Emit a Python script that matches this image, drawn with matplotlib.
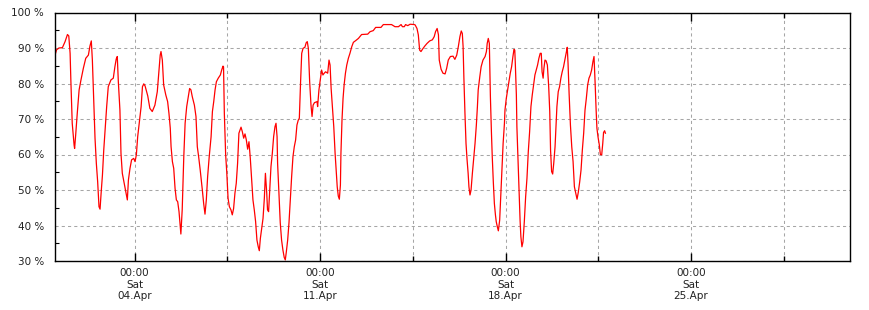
"""
CPU/memory style usage chart (percent over April), redrawn from a monitoring
screenshot. Values are read off the picture by hand.
"""

from datetime import datetime, timedelta

import matplotlib
matplotlib.use("Agg")
import matplotlib.pyplot as plt
import matplotlib.dates as mdates
from matplotlib.ticker import FixedLocator, FuncFormatter, MultipleLocator

# ─── DATA ───────────────────────────────────────────────────────────────────
START = datetime(2020, 4, 1)
END = datetime(2020, 5, 1)

# days since START
days = [
    0.00, 0.06, 0.15, 0.28, 0.38, 0.47, 0.52, 0.57, 0.60, 0.65, 0.72, 0.74,
    0.78, 0.84, 0.91, 0.98, 1.07, 1.16, 1.26, 1.32, 1.37, 1.41, 1.46, 1.51,
    1.56, 1.61, 1.66, 1.70, 1.74, 1.79, 1.84, 1.89, 1.95, 2.01, 2.11, 2.20,
    2.26, 2.31, 2.35, 2.39, 2.45, 2.49, 2.54, 2.60, 2.67, 2.73, 2.77, 2.83,
    2.89, 2.97, 3.02, 3.07, 3.12, 3.18, 3.25, 3.30, 3.35,
    3.40, 3.50, 3.58, 3.67, 3.77, 3.86, 3.92, 3.97, 4.00, 4.05, 4.10, 4.18,
    4.25, 4.30, 4.35, 4.38, 4.43, 4.48, 4.53, 4.58, 4.63, 4.68, 4.72, 4.75,
    4.80, 4.86, 4.91, 4.97, 5.03, 5.08, 5.13, 5.18, 5.26, 5.32, 5.37, 5.42,
    5.48, 5.56, 5.61, 5.66, 5.71, 5.76, 5.82, 5.89, 5.94, 5.99, 6.04, 6.09,
    6.16, 6.24, 6.29, 6.34, 6.36, 6.39, 6.44, 6.48, 6.53, 6.58, 6.64, 6.69,
    6.74, 6.79,
    6.84, 6.89, 6.94, 7.02, 7.07, 7.12, 7.17, 7.22, 7.27, 7.32, 7.37, 7.42,
    7.47, 7.52, 7.57, 7.62, 7.67, 7.71, 7.75, 7.80, 7.85, 7.90, 7.94, 7.99,
    8.02, 8.06, 8.10, 8.15, 8.20, 8.25, 8.30, 8.34, 8.38, 8.40, 8.45, 8.50,
    8.55, 8.60, 8.65, 8.69, 8.73, 8.78, 8.83, 8.88, 8.93, 8.98, 9.03, 9.08,
    9.13, 9.18, 9.22, 9.27, 9.31, 9.36, 9.43, 9.48, 9.52, 9.56, 9.61, 9.66,
    9.70, 9.74, 9.79, 9.89, 9.91, 9.96, 10.01, 10.06, 10.11, 10.16, 10.21,
    10.29, 10.34, 10.38, 10.42, 10.47, 10.52, 10.57, 10.62, 10.65, 10.69,
    10.73, 10.77, 10.79, 10.83, 10.87, 10.91, 10.96, 11.01, 11.07, 11.13,
    11.20, 11.26, 11.35, 11.45, 11.57, 11.80, 11.89, 12.01, 12.10, 12.30,
    12.39, 12.70, 12.83, 12.96, 13.06, 13.11, 13.18, 13.23, 13.31, 13.40,
    13.56,
    13.59, 13.66, 13.71, 13.76, 13.81, 13.89, 13.96, 14.04, 14.14, 14.24,
    14.31, 14.36, 14.42, 14.47, 14.50, 14.57, 14.64, 14.72, 14.78, 14.84,
    14.92, 15.02, 15.09, 15.16, 15.22, 15.28, 15.33, 15.37, 15.40, 15.43,
    15.47, 15.51, 15.55, 15.59, 15.62, 15.66, 15.70, 15.75, 15.80, 15.85,
    15.90, 15.94, 15.97, 16.03, 16.08, 16.15, 16.23, 16.28, 16.31, 16.35,
    16.39, 16.43, 16.47, 16.50, 16.54, 16.58, 16.62, 16.65, 16.69, 16.73,
    16.78, 16.82, 16.87, 16.91, 16.96,
    16.98, 17.03, 17.08, 17.13, 17.18, 17.23, 17.28, 17.32, 17.35, 17.37,
    17.41, 17.43, 17.47, 17.51, 17.55, 17.58, 17.62, 17.66, 17.71, 17.76,
    17.81, 17.86, 17.91, 17.96, 18.01, 18.06, 18.11, 18.16, 18.21, 18.26,
    18.31, 18.35, 18.38, 18.42, 18.45, 18.49, 18.53, 18.58, 18.63, 18.67,
    18.70, 18.74, 18.78, 18.82, 18.87, 18.91, 18.94, 18.99, 19.04, 19.09,
    19.14, 19.19, 19.24, 19.30, 19.33, 19.36, 19.40, 19.45, 19.50, 19.55,
    19.60, 19.65, 19.70, 19.75, 19.80, 19.85, 19.90, 19.95, 20.00, 20.05,
    20.10, 20.15, 20.20, 20.25, 20.30, 20.34, 20.38, 20.42, 20.45, 20.49,
    20.54, 20.58, 20.63, 20.67, 20.70, 20.74, 20.77,
]

usage_pct = [
    88.0, 89.5, 90.0, 90.1, 91.8, 93.8, 93.4, 88.5, 80.5, 68.8, 62.7, 61.7,
    65.5, 71.6, 78.2, 81.0, 84.3, 87.1, 88.0, 90.6, 92.0, 86.6, 75.8, 64.6,
    57.5, 52.3, 45.3, 44.6, 49.1, 54.2, 61.3, 66.9, 73.5, 79.1, 81.0, 81.5,
    84.7, 86.9, 87.6, 80.5, 72.5, 60.3, 54.7, 52.3, 49.5, 47.2, 52.8, 56.1,
    58.5, 58.9, 58.0, 59.9, 65.0, 68.8, 73.5, 79.1, 79.9,
    79.3, 76.5, 73.0, 72.1, 73.9, 77.7, 83.3, 88.0, 89.0, 86.6, 79.6, 76.8,
    74.9, 71.6, 67.4, 62.2, 58.0, 56.1, 50.5, 47.2, 46.7, 43.9, 40.1, 37.6,
    44.4, 59.4, 68.8, 73.5, 76.3, 78.6, 78.2, 76.3, 73.9, 70.7, 62.2, 59.4,
    55.6, 50.0, 46.2, 43.2, 47.2, 53.8, 59.4, 65.0, 72.1, 74.9, 78.2, 80.5,
    81.5, 82.4, 83.8, 84.9, 84.7, 71.6, 59.9, 55.2, 47.7, 45.3, 44.4, 43.0,
    44.8, 49.1,
    51.9, 57.5, 66.0, 67.7, 66.4, 64.6, 65.8, 64.1, 61.5, 63.6, 58.9, 52.8,
    47.2, 44.4, 41.1, 35.9, 34.0, 32.9, 36.4, 39.2, 42.0, 47.7, 54.7, 49.1,
    44.4, 43.9, 49.5, 56.6, 60.3, 65.0, 67.8, 68.8, 65.0, 57.5, 49.1, 40.8,
    35.9, 33.1, 31.0, 30.3, 32.6, 35.9, 40.8, 47.2, 53.8, 59.4, 62.2, 64.1,
    68.3, 69.7, 70.2, 81.0, 88.5, 89.9, 90.2, 91.5, 91.8, 89.9, 80.5, 73.9,
    70.7, 73.9, 74.6, 74.9, 73.5, 78.2, 81.0, 83.8, 82.4, 82.9, 83.3,
    82.9, 86.6, 85.2, 78.6, 73.0, 67.8, 60.3, 54.7, 50.9, 48.3,
    47.4, 51.4, 60.3, 69.7, 75.8, 79.6, 82.9, 85.2, 87.1, 88.5,
    90.4, 91.6, 92.1, 92.7, 93.8, 93.9, 94.6, 94.9, 95.8, 95.8,
    96.6, 96.6, 96.0, 96.0, 96.6, 96.0, 96.0, 96.6, 96.3, 96.7,
    96.6,
    96.5, 95.5, 93.7, 89.4, 89.0, 89.9, 90.6, 91.3, 92.0, 92.3,
    93.2, 94.6, 95.5, 93.7, 86.6, 84.0, 82.9, 82.7, 84.3, 86.6,
    87.6, 87.7, 86.8, 88.0, 90.4, 93.2, 94.8, 94.1, 90.4, 81.5,
    71.6, 63.1, 58.5, 54.7, 50.9, 48.6, 50.0, 54.7, 58.9, 63.1,
    68.3, 73.5, 78.2, 81.9, 84.7, 86.6, 87.6, 89.0, 91.3, 92.7,
    91.3, 76.3, 66.0, 59.4, 52.3, 46.2, 43.0, 41.1, 39.7, 38.5,
    41.5, 48.1, 56.6, 63.1, 68.8,
    72.5, 75.8, 78.2, 80.5, 82.9, 84.7, 87.6, 89.6, 89.4, 85.7,
    76.8, 67.8, 58.9, 49.5, 41.5, 36.9, 34.0, 35.4, 41.1, 48.1,
    53.3, 60.8, 66.4, 73.5, 76.8, 79.6, 82.4, 83.8, 85.2, 87.1,
    88.5, 88.5, 83.3, 81.5, 84.3, 86.6, 86.4, 85.2, 79.1, 72.1,
    61.3, 55.2, 54.5, 57.5, 62.2, 68.3, 73.5, 77.7, 79.1, 81.5,
    83.3, 84.7, 86.6, 89.0, 90.2, 85.7, 77.2, 68.3, 62.2, 58.0,
    50.9, 49.1, 47.4, 49.5, 52.3, 55.6, 61.3, 66.0, 72.5, 75.8,
    79.6, 81.5, 82.4, 83.8, 86.2, 87.6, 80.5, 72.5, 67.4, 65.0,
    62.7, 60.0, 59.9, 63.1, 66.2, 66.7, 66.0,
]

times = [START + timedelta(days=d) for d in days]

# ─── PLOT ───────────────────────────────────────────────────────────────────
fig = plt.figure(figsize=(8.7, 3.1), dpi=100)
ax = fig.add_axes([55 / 870, 49 / 310, 795 / 870, 248.5 / 310])

ax.plot(times, usage_pct, color="#ff0000", linewidth=0.9)

ax.set_xlim(START, END)
ax.set_ylim(30, 100)

# Saturdays 00:00 get labels, Wednesday noon only a grid line
ax.xaxis.set_major_locator(mdates.WeekdayLocator(byweekday=mdates.SA))
ax.xaxis.set_major_formatter(mdates.DateFormatter("%H:%M\n%a\n%d.%b"))
sat = [mdates.date2num(START + timedelta(days=3 + 7 * k)) for k in range(4)]
ax.xaxis.set_minor_locator(FixedLocator([s + 3.5 for s in sat]))

ax.yaxis.set_major_locator(MultipleLocator(10))
ax.yaxis.set_minor_locator(MultipleLocator(5))
ax.yaxis.set_major_formatter(FuncFormatter(lambda v, pos: f"{v:.0f} %"))

grid_style = dict(color="#a6a6a6", linestyle=(0, (3, 3)), linewidth=0.75)
ax.grid(True, which="both", axis="x", **grid_style)
ax.grid(True, which="major", axis="y", **grid_style)

ax.tick_params(axis="x", which="major", direction="in", length=6, width=1.0,
               top=True, labelsize=7.5, labelcolor="#222222", pad=5)
ax.tick_params(axis="x", which="minor", direction="in", length=3.5, width=1.0, top=True)
ax.tick_params(axis="y", which="major", direction="in", length=0,
               labelsize=7.5, labelcolor="#222222", pad=8)
ax.tick_params(axis="y", which="minor", direction="in", length=3, width=0.8)

for lbl in ax.get_xticklabels():
    lbl.set_horizontalalignment("center")
    lbl.set_multialignment("center")

for side in ax.spines.values():
    side.set_color("black")
    side.set_linewidth(1.0)

fig.savefig("out.png", dpi=100)
